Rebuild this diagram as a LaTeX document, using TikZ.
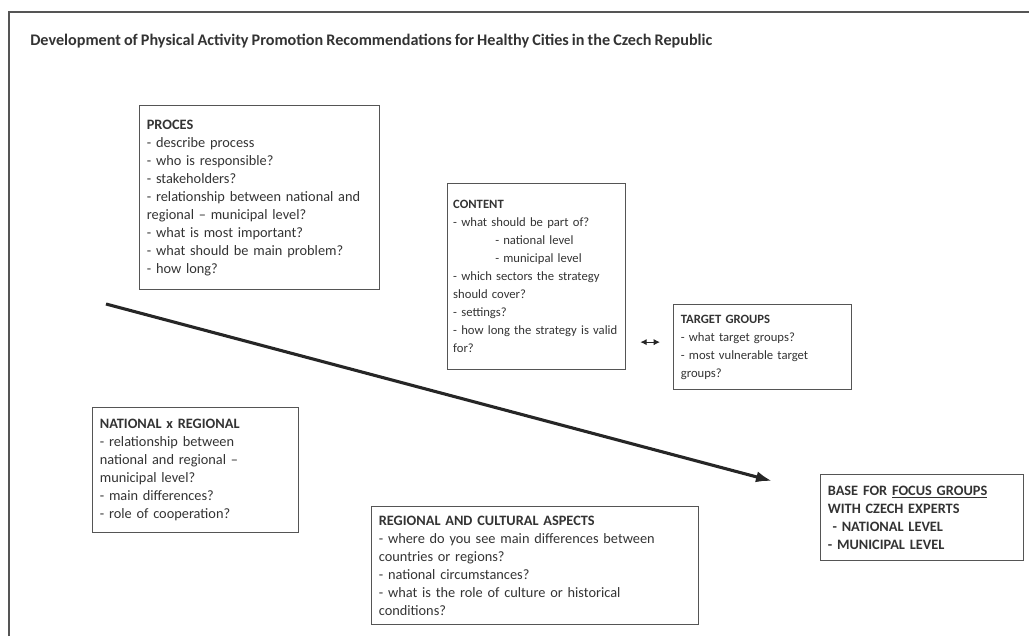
\documentclass[tikz,border=0pt]{standalone}
\usepackage{fontspec}
\setmainfont{Carlito}[WordSpace=0.85]
\usetikzlibrary{arrows.meta,positioning}
\definecolor{inkgray}{HTML}{333333}
\definecolor{framegray}{HTML}{555555}
\tikzset{
  qbox/.style={draw=framegray, line width=0.9pt, anchor=north west, align=left, inner xsep=0.18cm, inner ysep=4pt, text=inkgray, font=\fontsize{10.2}{12.8}\selectfont},
  qsmall/.style={font=\fontsize{9}{12.8}\selectfont},
  qtitle/.style={anchor=west, inner sep=0pt, text=inkgray, font=\fontsize{11.5}{14}\selectfont\bfseries},
  qarrow/.style={-{Latex[length=4mm,width=2.8mm]}, line width=2.2pt, draw=black!85},
  qdbl/.style={{Latex[length=1.6mm,width=1.6mm]}-{Latex[length=1.6mm,width=1.6mm]}, line width=0.8pt, draw=black!85}
}
\begin{document}
\begin{tikzpicture}[x=0.025cm, y=-0.025cm]
\useasboundingbox (0,0) rectangle (1029,636);
\draw[framegray, line width=1.2pt] (9,636) -- (9,12) -- (1029,12);
\node[qtitle] (title) at (30,41) {Development of Physical Activity Promotion Recommendations for Healthy Cities in the Czech Republic};
\node[qbox, text width=5.64cm, minimum height=4.6cm] (proces) at (139,105) {\textbf{PROCES}\\- describe process\\- who is responsible?\\- stakeholders?\\- relationship between national and\\regional -- municipal level?\\- what is most important?\\- what should be main problem?\\- how long?};
\node[qbox, qsmall, inner xsep=0.14cm, text width=4.17cm, minimum height=4.65cm] (content) at (447,183) {\textbf{CONTENT}\\- what should be part of?\\\hspace*{1.05cm}- national level\\\hspace*{1.05cm}- municipal level\\- which sectors the strategy\\should cover?\\- settings?\\- how long the strategy is valid\\for?};
\node[qbox, qsmall, text width=4.09cm, minimum height=2.125cm] (target) at (673,304) {\textbf{TARGET GROUPS}\\- what target groups?\\- most vulnerable target\\groups?};
\node[qbox, text width=4.79cm, minimum height=3.125cm] (natreg) at (92,407) {\textbf{NATIONAL x REGIONAL}\\- relationship between\\national and regional --\\municipal level?\\- main differences?\\- role of cooperation?};
\node[qbox, text width=7.815cm, minimum height=2.95cm] (cultural) at (371,506) {\textbf{REGIONAL AND CULTURAL ASPECTS}\\- where do you see main differences between\\countries or regions?\\- national circumstances?\\- what is the role of culture or historical\\conditions?};
\node[qbox, text width=4.715cm, minimum height=2.15cm] (base) at (820,474) {\textbf{BASE FOR \underline{FOCUS GROUPS}}\\\textbf{WITH CZECH EXPERTS}\\\textbf{\ - NATIONAL LEVEL}\\\textbf{- MUNICIPAL LEVEL}};
\coordinate (flowstart) at (106,304);
\coordinate (flowend) at (772,481);
\draw[qarrow] (flowstart) -- (flowend);
\draw[qdbl, shorten <=0.35cm, shorten >=0.325cm] ([yshift=0.125cm]content.east |- target.west) -- ([yshift=0.125cm]target.west);
\end{tikzpicture}
\end{document}
